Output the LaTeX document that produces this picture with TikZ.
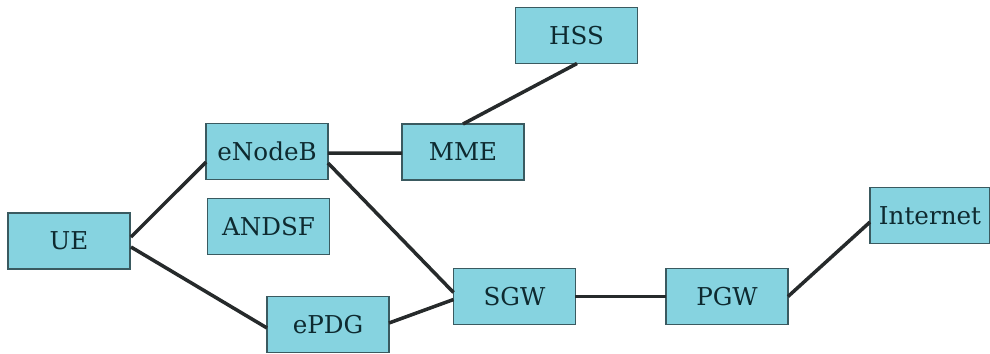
\documentclass[tikz,border=0pt]{standalone}
\usepackage{fontspec}
\setmainfont{DejaVu Serif}
\usetikzlibrary{calc}
\definecolor{boxfill}{HTML}{86D3E0}
\definecolor{boxline}{HTML}{3A5A60}
\definecolor{boxtext}{HTML}{0E2A30}
\definecolor{linkcol}{HTML}{262A2B}
\begin{document}
\begin{tikzpicture}[x=0.02cm, y=-0.02cm,
  netbox/.style={draw=boxline, fill=boxfill, line width=1pt,
    minimum width=2.44cm, minimum height=1.12cm, inner sep=0pt, outer sep=0pt,
    text=boxtext, font=\fontsize{14pt}{16pt}\selectfont},
  link/.style={draw=linkcol, line width=2pt}]
\useasboundingbox (0,0) rectangle (990,353);
% network elements
\node[netbox] (ue)   at (69,241)    {UE};
\node[netbox] (enb)  at (267,151.5) {eNodeB};
\node[netbox] (andsf) at (268.5,226.5) {ANDSF};
\node[netbox] (mme)  at (463,152)   {MME};
\node[netbox] (hss)  at (576.5,35.5) {HSS};
\node[netbox] (sgw)  at (514.5,296.5) {SGW};
\node[netbox] (epdg) at (328,324.5) {ePDG};
\node[netbox] (pgw)  at (727,296.5) {PGW};
\node[netbox, minimum width=2.4cm] (inet) at (930,215.5) {Internet};
% interfaces
\draw[link] ($(ue.east)+(1,-4)$) -- ($(enb.west)+(0,10.5)$);
\draw[link] ($(ue.east)+(1,6)$) -- ($(epdg.west)+(0,3.5)$);
\draw[link] ($(enb.east)+(0,1.5)$) -- ($(mme.west)+(0,1)$);
\draw[link] ($(hss.south)+(0.5,0)$) -- (mme.north);
\draw[link] ($(enb.east)+(0,11.5)$) -- ($(sgw.west)+(0,-4)$);
\draw[link] ($(epdg.east)+(0,-1.5)$) -- ($(sgw.west)+(0,3)$);
\draw[link] (sgw.east) -- (pgw.west);
\draw[link] (pgw.east) -- ($(inet.west)+(0,6.5)$);
\end{tikzpicture}
\end{document}
